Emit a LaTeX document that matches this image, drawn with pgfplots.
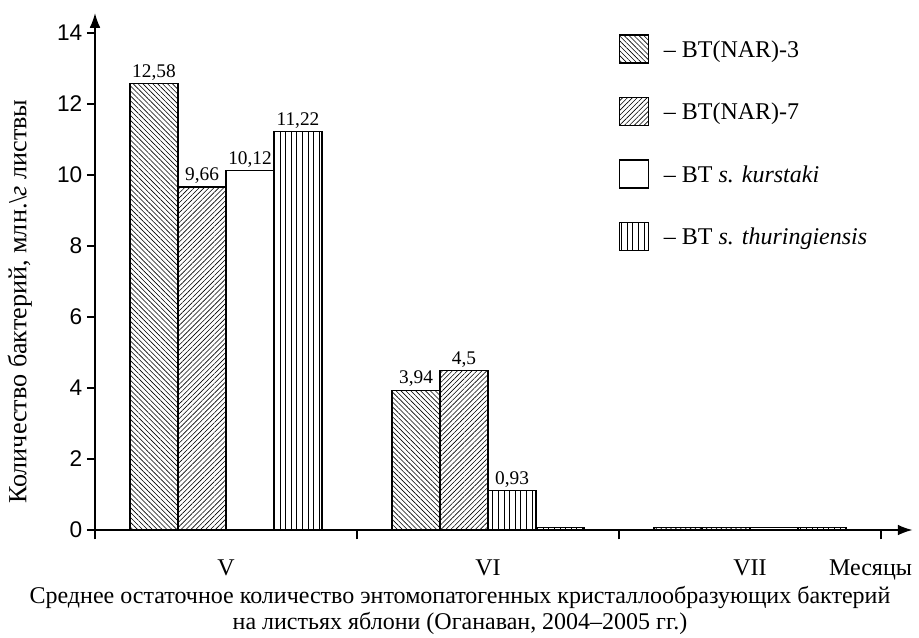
\documentclass[border=0pt]{standalone}
\usepackage{pgfplots}
\pgfplotsset{compat=1.18}
\usetikzlibrary{patterns.meta,arrows.meta}
\usepackage{fontspec}
\setmainfont{Liberation Serif}
\newfontfamily\arial{Liberation Sans}
\tikzset{
  pA/.style={pattern={Lines[angle=-45,distance=2.6pt,line width=0.45pt]}},
  pB/.style={pattern={Lines[angle=45,distance=2.6pt,line width=0.45pt]}},
  pC/.style={fill=white},
  pD/.style={pattern={Lines[angle=90,distance=4.2pt,line width=0.5pt]}},
}
\begin{document}
\begin{tikzpicture}
\path[use as bounding box] (-71.25pt,-80.25pt) rectangle (618pt,397.5pt);
\begin{axis}[
  at={(0pt,0pt)}, anchor=south west,
  x=196.5pt, y=26.625pt,
  xmin=0, xmax=3.12, ymin=0, ymax=14.56,
  clip=false,
  axis lines=left,
  axis line style={line width=1pt, -{Latex[length=11pt,width=8pt]}},
  ybar=0pt, bar width=36pt,
  ytick={0,2,...,14},
  /pgf/number format/assume math mode=true,
  yticklabel style={font=\arial\fontsize{17}{20}\selectfont, xshift=0pt},
  ytick style={line width=0.8pt, black},
  tick align=outside, major tick length=6pt,
  xtick={0.5,1.5,2.5,2.96}, xticklabels={V,VI,VII,Месяцы},
  xticklabel style={font=\fontsize{18}{20}\selectfont, yshift=-13pt},
  xtick style={draw=none},
  extra x ticks={0,1,2,3}, extra x tick labels={},
  extra x tick style={xtick style={draw=black, line width=0.8pt}, major tick length=7pt, tick align=outside},
  ylabel={Количество бактерий, млн.\textbackslash\textit{г} листвы},
  ylabel style={font=\fontsize{19.6}{21}\selectfont, at={(ticklabel cs:0.47)}, xshift=-11pt, yshift=12pt},
  every axis plot/.append style={draw=black, line width=0.9pt},
  point meta=explicit symbolic,
  nodes near coords,
  every node near coord/.append style={font=\fontsize{14.5}{16}\selectfont, inner sep=2pt, black},
  legend style={at={(axis cs:2.0,13.97)}, anchor=north west, draw=none, fill=none,
     font=\fontsize{18}{20}\selectfont, row sep=25pt, inner sep=0pt,
     /tikz/every odd column/.style={column sep=0pt},
     nodes={inner sep=0pt, text depth=0pt}},
  legend cell align=left,
  legend image code/.code={\draw[#1,draw=black,line width=0.9pt] (0pt,-10.5pt) rectangle (21.5pt,10.5pt);
     \path[draw=none,fill=none,pattern=none] (21.5pt,0pt) -- (33pt,0pt);},
]
\addplot[pA] coordinates {(0.5,12.58) [12,58] (1.5,3.94) [3,94] (2.5,0.07) []};
\addlegendentry{– BT(NAR)-3}
\addplot[pB] coordinates {(0.5,9.66) [9,66] (1.5,4.5) [4,5] (2.5,0.07) []};
\addlegendentry{– BT(NAR)-7}
\addplot[pC] coordinates {(0.5,10.12) [10,12] (2.5,0.07) []};
\addlegendentry{– BT \textit{s. kurstaki}}
\addplot[pD] coordinates {(0.5,11.22) [11,22] (1.5,0.07) [] (2.5,0.07) []};
\addlegendentry{– BT \textit{s. thuringiensis}}
\addplot[pD, forget plot, bar shift=18pt] coordinates {(1.5,1.12) [0,93]};
\node[font=\fontsize{18}{19.5}\selectfont, align=center, anchor=north] at (axis cs:1.393,0) [yshift=-39pt]
  {Среднее остаточное количество энтомопатогенных кристаллообразующих бактерий\\на листьях яблони (Оганаван, 2004–2005 гг.)};
\end{axis}
\end{tikzpicture}
\end{document}
